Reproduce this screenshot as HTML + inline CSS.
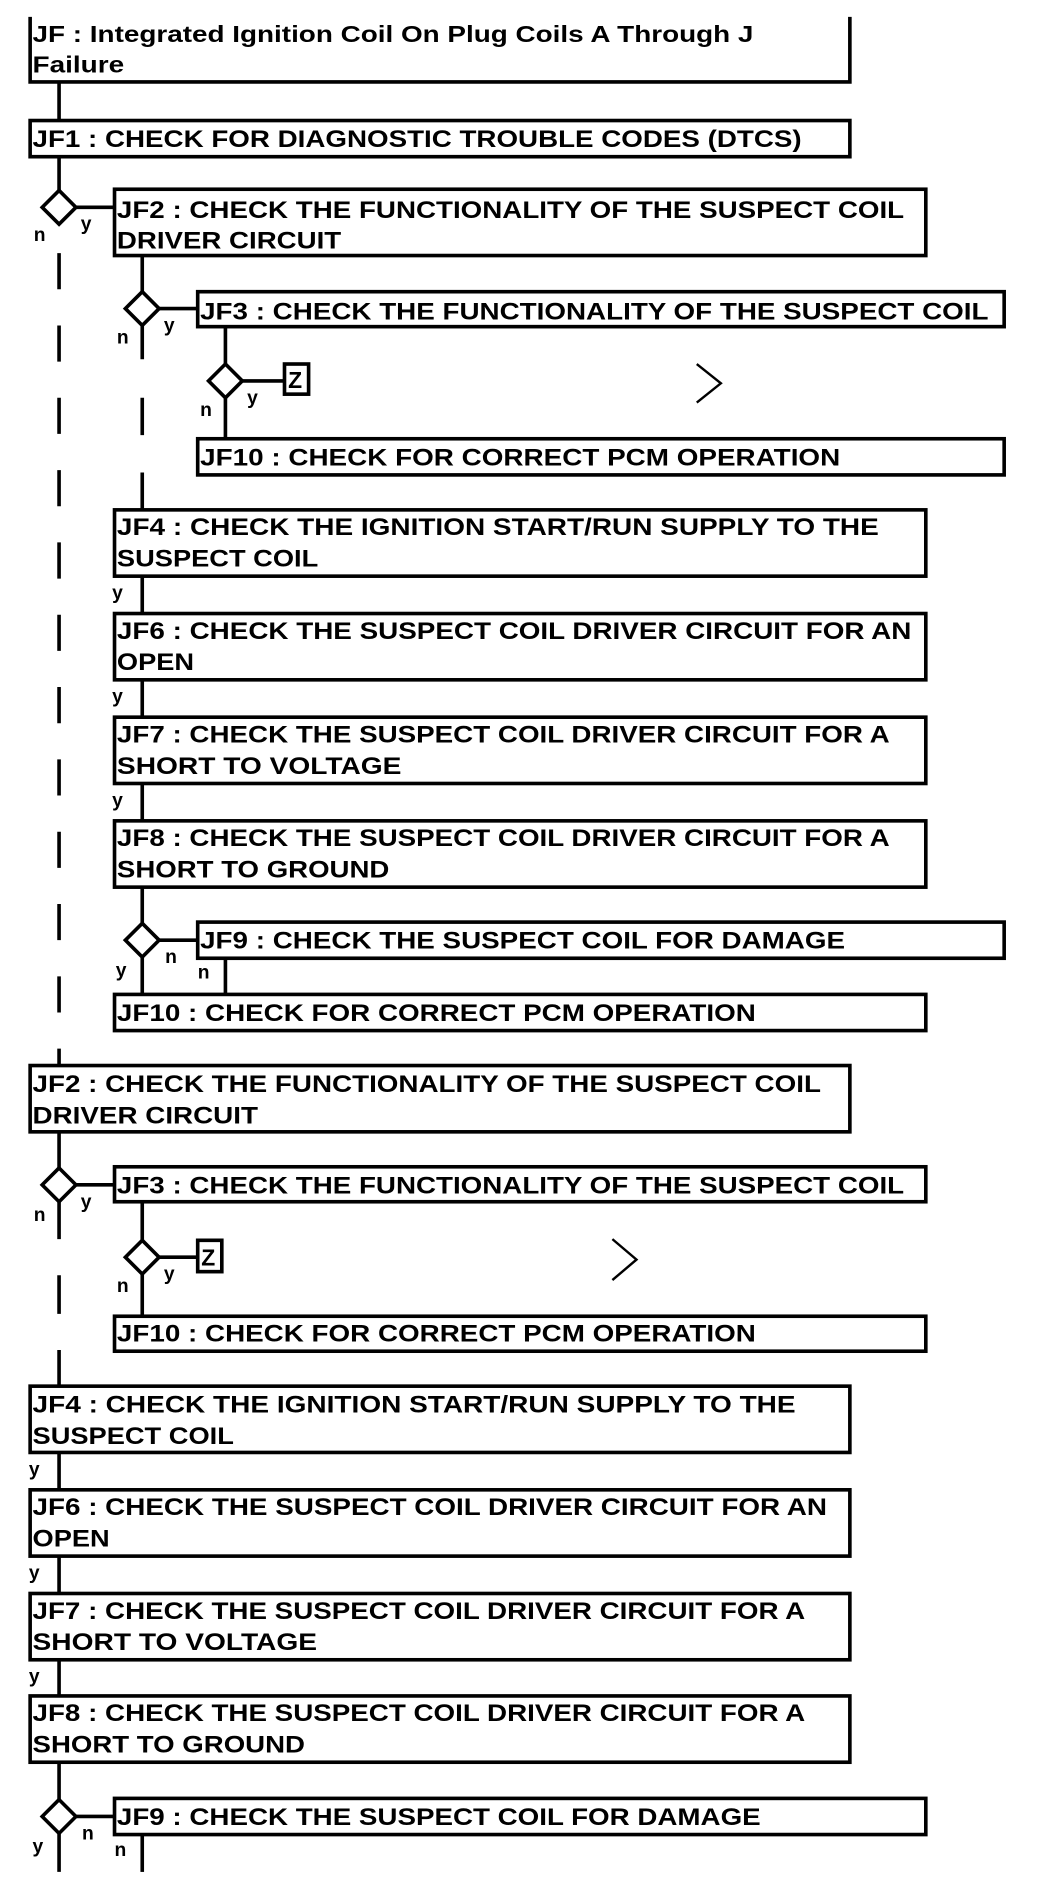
<!DOCTYPE html>
<html><head><meta charset="utf-8"><style>
html,body{margin:0;padding:0;background:#fff;}
svg{display:block;}
text{font-family:"Liberation Sans",Arial,sans-serif;font-weight:bold;fill:#000;}
.t{font-size:20px;}
.l{font-size:16px;}
</style></head><body>
<svg width="1056" height="1890" viewBox="0 0 876 1568" preserveAspectRatio="none" xmlns="http://www.w3.org/2000/svg">
<g fill="none" stroke="#000" stroke-width="3">
<!-- title box (no top border) -->
<path d="M25 14 V68 H705 V14"/>
<rect x="25" y="100" width="680" height="30"/>
<rect x="95" y="157" width="673" height="55"/>
<rect x="164" y="242" width="669" height="29"/>
<rect x="236" y="302" width="20" height="25"/>
<rect x="164" y="364" width="669" height="30"/>
<rect x="95" y="423" width="673" height="55"/>
<rect x="95" y="509" width="673" height="55"/>
<rect x="95" y="595" width="673" height="55"/>
<rect x="95" y="681" width="673" height="55"/>
<rect x="164" y="765" width="669" height="30"/>
<rect x="95" y="825" width="673" height="30"/>
<rect x="25" y="884" width="680" height="55"/>
<rect x="95" y="968" width="673" height="29"/>
<rect x="164" y="1029" width="20" height="26"/>
<rect x="95" y="1092" width="673" height="29"/>
<rect x="25" y="1150" width="680" height="55"/>
<rect x="25" y="1236" width="680" height="55"/>
<rect x="25" y="1322" width="680" height="55"/>
<rect x="25" y="1407" width="680" height="55"/>
<rect x="95" y="1492" width="673" height="30"/>

<!-- diamonds -->
<path d="M49 158 L63 172 L49 186 L35 172 Z"/>
<path d="M118 242 L132 256 L118 270 L104 256 Z"/>
<path d="M187 302 L201 316 L187 330 L173 316 Z"/>
<path d="M118 766 L132 780 L118 794 L104 780 Z"/>
<path d="M49 969 L63 983 L49 997 L35 983 Z"/>
<path d="M118 1029 L132 1043 L118 1057 L104 1043 Z"/>
<path d="M49 1493 L63 1507 L49 1521 L35 1507 Z"/>

<!-- chevrons -->
<path d="M578 302 L598 318 L578 334" stroke-width="2"/>
<path d="M508 1028 L528 1045 L508 1062" stroke-width="2"/>

<!-- column A -->
<path d="M49 68 V100 M49 130 V158"/>
<path d="M49 210 V884" stroke-dasharray="30 30"/>
<path d="M63 172 H95"/>
<path d="M49 939 V969 M63 983 H95 M49 997 V1028"/>
<path d="M49 1058 V1090 M49 1120 V1150"/>
<path d="M49 1205 V1236 M49 1291 V1322 M49 1377 V1407 M49 1462 V1493 M63 1507 H95 M49 1521 V1553"/>
<path d="M118 1522 V1553"/>

<!-- column B -->
<path d="M118 212 V242 M132 256 H164 M118 270 V298"/>
<path d="M118 330 V361 M118 392 V423"/>
<path d="M118 478 V509 M118 564 V595 M118 650 V681 M118 736 V766 M132 780 H164 M118 794 V825"/>
<path d="M187 795 V825"/>
<path d="M118 997 V1029 M132 1043 H164 M118 1057 V1092"/>

<!-- column C -->
<path d="M187 271 V302 M201 316 H236 M187 330 V364"/>
</g>

<!-- texts -->
<text class="t" x="27" y="35" textLength="598" lengthAdjust="spacingAndGlyphs" style="font-size:19px">JF : Integrated Ignition Coil On Plug Coils A Through J</text>
<text class="t" x="27" y="60" textLength="76" lengthAdjust="spacingAndGlyphs" style="font-size:19px">Failure</text>
<text class="t" x="27" y="122" textLength="638" lengthAdjust="spacingAndGlyphs">JF1 : CHECK FOR DIAGNOSTIC TROUBLE CODES (DTCS)</text>

<text class="t" x="97" y="181" textLength="653" lengthAdjust="spacingAndGlyphs">JF2 : CHECK THE FUNCTIONALITY OF THE SUSPECT COIL</text>
<text class="t" x="97" y="206" textLength="186" lengthAdjust="spacingAndGlyphs">DRIVER CIRCUIT</text>
<text class="t" x="166" y="265" textLength="654" lengthAdjust="spacingAndGlyphs">JF3 : CHECK THE FUNCTIONALITY OF THE SUSPECT COIL</text>
<text class="t" x="239" y="322" style="font-size:19px">Z</text>
<text class="t" x="166" y="386" textLength="531" lengthAdjust="spacingAndGlyphs">JF10 : CHECK FOR CORRECT PCM OPERATION</text>

<text class="t" x="97" y="444" textLength="632" lengthAdjust="spacingAndGlyphs">JF4 : CHECK THE IGNITION START/RUN SUPPLY TO THE</text>
<text class="t" x="97" y="470" textLength="167" lengthAdjust="spacingAndGlyphs">SUSPECT COIL</text>
<text class="t" x="97" y="530" textLength="659" lengthAdjust="spacingAndGlyphs">JF6 : CHECK THE SUSPECT COIL DRIVER CIRCUIT FOR AN</text>
<text class="t" x="97" y="556" textLength="64" lengthAdjust="spacingAndGlyphs">OPEN</text>
<text class="t" x="97" y="616" textLength="641" lengthAdjust="spacingAndGlyphs">JF7 : CHECK THE SUSPECT COIL DRIVER CIRCUIT FOR A</text>
<text class="t" x="97" y="642" textLength="236" lengthAdjust="spacingAndGlyphs">SHORT TO VOLTAGE</text>
<text class="t" x="97" y="702" textLength="641" lengthAdjust="spacingAndGlyphs">JF8 : CHECK THE SUSPECT COIL DRIVER CIRCUIT FOR A</text>
<text class="t" x="97" y="728" textLength="226" lengthAdjust="spacingAndGlyphs">SHORT TO GROUND</text>
<text class="t" x="166" y="787" textLength="535" lengthAdjust="spacingAndGlyphs">JF9 : CHECK THE SUSPECT COIL FOR DAMAGE</text>
<text class="t" x="97" y="847" textLength="530" lengthAdjust="spacingAndGlyphs">JF10 : CHECK FOR CORRECT PCM OPERATION</text>

<text class="t" x="27" y="906" textLength="654" lengthAdjust="spacingAndGlyphs">JF2 : CHECK THE FUNCTIONALITY OF THE SUSPECT COIL</text>
<text class="t" x="27" y="932" textLength="187" lengthAdjust="spacingAndGlyphs">DRIVER CIRCUIT</text>
<text class="t" x="97" y="990" textLength="653" lengthAdjust="spacingAndGlyphs">JF3 : CHECK THE FUNCTIONALITY OF THE SUSPECT COIL</text>
<text class="t" x="167" y="1050" style="font-size:19px">Z</text>
<text class="t" x="97" y="1113" textLength="530" lengthAdjust="spacingAndGlyphs">JF10 : CHECK FOR CORRECT PCM OPERATION</text>

<text class="t" x="27" y="1172" textLength="633" lengthAdjust="spacingAndGlyphs">JF4 : CHECK THE IGNITION START/RUN SUPPLY TO THE</text>
<text class="t" x="27" y="1198" textLength="167" lengthAdjust="spacingAndGlyphs">SUSPECT COIL</text>
<text class="t" x="27" y="1257" textLength="659" lengthAdjust="spacingAndGlyphs">JF6 : CHECK THE SUSPECT COIL DRIVER CIRCUIT FOR AN</text>
<text class="t" x="27" y="1283" textLength="64" lengthAdjust="spacingAndGlyphs">OPEN</text>
<text class="t" x="27" y="1343" textLength="641" lengthAdjust="spacingAndGlyphs">JF7 : CHECK THE SUSPECT COIL DRIVER CIRCUIT FOR A</text>
<text class="t" x="27" y="1369" textLength="236" lengthAdjust="spacingAndGlyphs">SHORT TO VOLTAGE</text>
<text class="t" x="27" y="1428" textLength="641" lengthAdjust="spacingAndGlyphs">JF8 : CHECK THE SUSPECT COIL DRIVER CIRCUIT FOR A</text>
<text class="t" x="27" y="1454" textLength="226" lengthAdjust="spacingAndGlyphs">SHORT TO GROUND</text>
<text class="t" x="97" y="1514" textLength="534" lengthAdjust="spacingAndGlyphs">JF9 : CHECK THE SUSPECT COIL FOR DAMAGE</text>

<!-- y/n labels -->
<text class="l" x="67" y="191">y</text>
<text class="l" x="28" y="200">n</text>
<text class="l" x="136" y="275">y</text>
<text class="l" x="97" y="285">n</text>
<text class="l" x="205" y="335">y</text>
<text class="l" x="166" y="345">n</text>
<text class="l" x="93" y="497">y</text>
<text class="l" x="93" y="583">y</text>
<text class="l" x="93" y="669">y</text>
<text class="l" x="137" y="799">n</text>
<text class="l" x="96" y="810">y</text>
<text class="l" x="164" y="812">n</text>
<text class="l" x="67" y="1002">y</text>
<text class="l" x="28" y="1013">n</text>
<text class="l" x="136" y="1062">y</text>
<text class="l" x="97" y="1072">n</text>
<text class="l" x="24" y="1224">y</text>
<text class="l" x="24" y="1310">y</text>
<text class="l" x="24" y="1396">y</text>
<text class="l" x="68" y="1526">n</text>
<text class="l" x="27" y="1537">y</text>
<text class="l" x="95" y="1540">n</text>
</svg>
</body></html>
